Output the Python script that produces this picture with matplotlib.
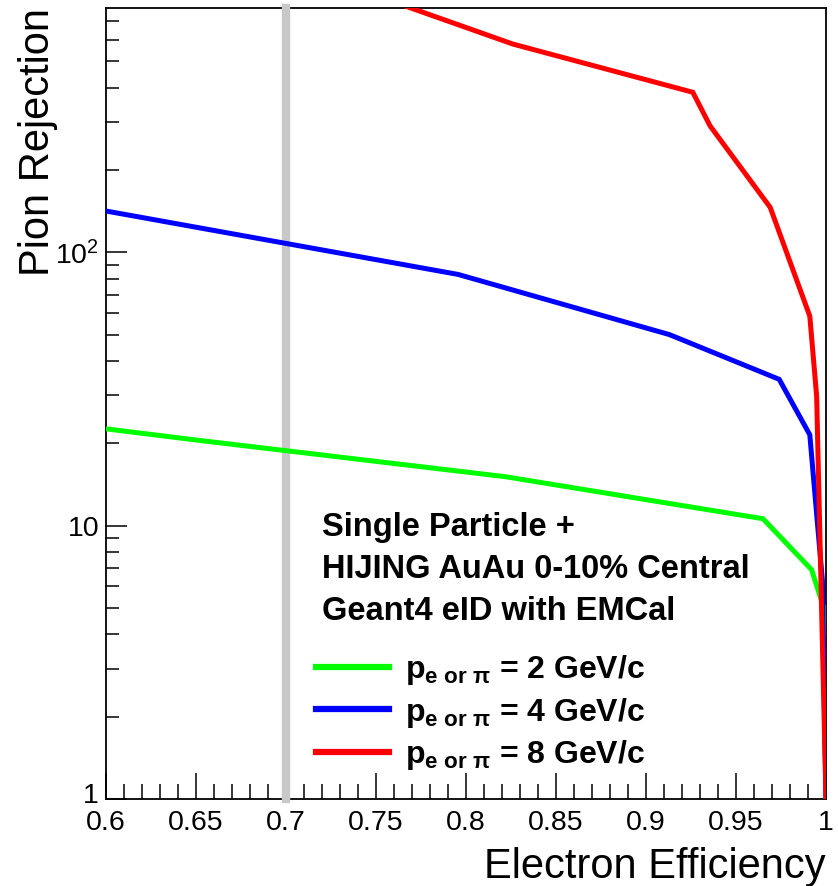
import matplotlib
matplotlib.use("Agg")
import matplotlib.pyplot as plt
from matplotlib import font_manager
from matplotlib.ticker import FixedLocator, MultipleLocator, NullFormatter, LogLocator
from matplotlib.transforms import ScaledTranslation

# ---------------- data ----------------
eff_2gev = [0.600, 0.652, 0.822, 0.965, 0.992, 0.9985, 1.000]
rej_2gev = [22.6, 20.5, 15.1, 10.6, 6.9, 5.06, 1.0]

eff_4gev = [0.600, 0.7956, 0.913, 0.974, 0.991, 0.998, 1.000]
rej_4gev = [141.6, 83.0, 50.0, 34.3, 21.5, 6.3, 1.0]

eff_8gev = [0.600, 0.826, 0.926, 0.9356, 0.969, 0.991, 0.9948, 1.000]
rej_8gev = [1940.0, 578.0, 385.0, 290.0, 146.0, 58.4, 29.8, 1.0]

series_labels = [r"$\mathbf{p_{e\ or\ \pi}}$ = 2 GeV/c",
                 r"$\mathbf{p_{e\ or\ \pi}}$ = 4 GeV/c",
                 r"$\mathbf{p_{e\ or\ \pi}}$ = 8 GeV/c"]
series_colors = ["#00ff00", "#0000ff", "#ff0000"]

ref_efficiency = 0.7
header_lines = ["Single Particle +", "HIJING AuAu 0-10% Central", "Geant4 eID with EMCal"]
xticks = [0.6, 0.65, 0.7, 0.75, 0.8, 0.85, 0.9, 0.95, 1.0]
xticklabels = ["0.6", "0.65", "0.7", "0.75", "0.8", "0.85", "0.9", "0.95", "1"]
yticks = [1, 10, 100]
yticklabels = ["1", "10", "10$^2$"]

# ---------------- fonts ----------------
def have(name):
    try:
        font_manager.findfont(name, fallback_to_default=False)
        return True
    except Exception:
        return False

narrow = "Liberation Sans Narrow" if have("Liberation Sans Narrow") else "Liberation Sans"
plt.rcParams["font.family"] = [narrow, "DejaVu Sans"]
plt.rcParams["mathtext.fontset"] = "custom"
plt.rcParams["mathtext.rm"] = narrow
plt.rcParams["mathtext.bf"] = "Liberation Sans:bold"
plt.rcParams["mathtext.it"] = narrow

W, H = 838, 886
fig = plt.figure(figsize=(W / 100, H / 100), dpi=100)
ax = fig.add_axes([106 / W, 1 - 799 / H, 720 / W, 791 / H])

lw = 3.6
for x, y, c, lab in zip([eff_2gev, eff_4gev, eff_8gev], [rej_2gev, rej_4gev, rej_8gev],
                        series_colors, series_labels):
    ax.plot(x, y, color=c, lw=lw, label=lab, zorder=3, solid_joinstyle="miter")

ax.axvline(ref_efficiency, color="#c8c8c8", lw=6, zorder=2.7, clip_on=False)

ax.set_yscale("log")
ax.set_xlim(0.6, 1.0)
ax.set_ylim(1, 783)

ax.xaxis.set_major_locator(FixedLocator(xticks))
ax.set_xticklabels(xticklabels)
ax.xaxis.set_minor_locator(MultipleLocator(0.01))
ax.yaxis.set_major_locator(FixedLocator(yticks))
ax.set_yticklabels(yticklabels)
ax.yaxis.set_minor_locator(LogLocator(base=10, subs=range(2, 10)))
ax.yaxis.set_minor_formatter(NullFormatter())

ax.tick_params(which="both", direction="in", top=False, right=False, width=1.1, colors="black")
ax.tick_params(axis="x", which="major", length=19, labelsize=20.5, pad=8)
ax.tick_params(axis="x", which="minor", length=11)
ax.tick_params(axis="y", which="major", length=15, labelsize=20.5, pad=5)
ax.tick_params(axis="y", which="minor", length=9)
for s in ax.spines.values():
    s.set_linewidth(1.3)

# lift the "1" label slightly so it sits above the corner like the reference
ylabs = ax.get_yticklabels()
ylabs[0].set_transform(ylabs[0].get_transform() + ScaledTranslation(0, 6 / 100, fig.dpi_scale_trans))

ax.set_xlabel("Electron Efficiency", fontsize=30, loc="right", labelpad=8)
ax.set_ylabel("Pion Rejection", fontsize=30, loc="top")
ax.yaxis.set_label_coords(-(106 - 58) / 720, 1.0)

for i, line in enumerate(header_lines):
    fig.text(322 / W, 1 - (536 + 42 * i) / H, line, fontsize=23.5, fontweight="bold",
             family="Liberation Sans", ha="left", va="baseline")

leg = ax.legend(loc="upper left", bbox_to_anchor=(316 / W, 1 - 653 / H),
                bbox_transform=fig.transFigure, frameon=False,
                prop={"family": "Liberation Sans", "weight": "bold", "size": 23},
                handlelength=2.3, handletextpad=0.5, labelspacing=0.27, borderpad=0,
                borderaxespad=0)
for h in leg.get_lines():
    h.set_linewidth(4.5)

fig.savefig("out.png", dpi=100)
